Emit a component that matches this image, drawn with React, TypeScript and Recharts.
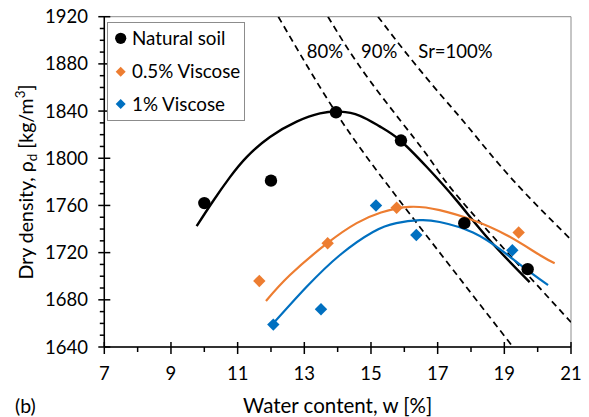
import React from 'react';
import { ComposedChart, Line, Scatter, XAxis, YAxis, ReferenceArea } from 'recharts';

// ---- axis ticks ----
const xTicks = [7, 8, 9, 10, 11, 12, 13, 14, 15, 16, 17, 18, 19, 20, 21];
const xTickLabels = [7, 9, 11, 13, 15, 17, 19, 21];
const yTicks = [1640, 1650, 1660, 1670, 1680, 1690, 1700, 1710, 1720, 1730, 1740, 1750, 1760, 1770, 1780, 1790, 1800, 1810, 1820, 1830, 1840, 1850, 1860, 1870, 1880, 1890, 1900, 1910, 1920];
const yTickLabels = [1640, 1680, 1720, 1760, 1800, 1840, 1880, 1920];

// ---- measured points ----
const naturalPts = [
  { w: 10.0, rho: 1762 },
  { w: 12.0, rho: 1781 },
  { w: 13.95, rho: 1839 },
  { w: 15.9, rho: 1815 },
  { w: 17.8, rho: 1745 },
  { w: 19.7, rho: 1706 },
];
const visc05Pts = [
  { w: 11.65, rho: 1696 },
  { w: 13.7, rho: 1728 },
  { w: 15.77, rho: 1758 },
  { w: 19.43, rho: 1737 },
];
const visc1Pts = [
  { w: 12.07, rho: 1659 },
  { w: 13.5, rho: 1672 },
  { w: 15.15, rho: 1760 },
  { w: 16.36, rho: 1735 },
  { w: 19.24, rho: 1722 },
];

// ---- fitted curves ----
const naturalFit = [
  { w: 9.77, rho: 1742.5 },
  { w: 10.27, rho: 1764 },
  { w: 10.77, rho: 1784 },
  { w: 11.27, rho: 1801 },
  { w: 11.97, rho: 1818 },
  { w: 12.77, rho: 1831 },
  { w: 13.47, rho: 1838 },
  { w: 14.07, rho: 1839.5 },
  { w: 14.67, rho: 1836 },
  { w: 15.26, rho: 1827 },
  { w: 15.86, rho: 1815.5 },
  { w: 16.66, rho: 1793 },
  { w: 17.56, rho: 1764.5 },
  { w: 18.56, rho: 1730.5 },
  { w: 19.76, rho: 1695 },
];
const visc05Fit = [
  { w: 11.85, rho: 1679 },
  { w: 12.57, rho: 1701 },
  { w: 13.69, rho: 1728 },
  { w: 14.57, rho: 1745 },
  { w: 15.3, rho: 1754 },
  { w: 16.16, rho: 1758.8 },
  { w: 17.06, rho: 1756 },
  { w: 18.06, rho: 1747.5 },
  { w: 19.06, rho: 1735 },
  { w: 20.06, rho: 1718 },
  { w: 20.51, rho: 1711 },
];
const visc1Fit = [
  { w: 12.07, rho: 1660 },
  { w: 13.07, rho: 1691 },
  { w: 14.07, rho: 1718 },
  { w: 15.06, rho: 1737.5 },
  { w: 15.76, rho: 1745 },
  { w: 16.46, rho: 1747.5 },
  { w: 17.06, rho: 1746 },
  { w: 18.06, rho: 1737 },
  { w: 18.96, rho: 1721 },
  { w: 19.56, rho: 1708 },
  { w: 20.31, rho: 1692.5 },
];

// ---- saturation lines ----
const sat80 = [
  { w: 12.22, rho: 1920 },
  { w: 13.92, rho: 1840 },
  { w: 15.86, rho: 1764 },
  { w: 19.26, rho: 1640 },
];
const sat90 = [
  { w: 13.71, rho: 1920 },
  { w: 14.96, rho: 1866 },
  { w: 16.66, rho: 1803.5 },
  { w: 17.71, rho: 1764 },
  { w: 21.0, rho: 1661 },
];
const sat100 = [
  { w: 15.21, rho: 1920 },
  { w: 16.16, rho: 1885.5 },
  { w: 17.16, rho: 1851.5 },
  { w: 17.96, rho: 1825 },
  { w: 19.26, rho: 1781.5 },
  { w: 21.0, rho: 1731 },
];
const satLabels = ['80%', '90%', 'Sr=100%'];

const BLACK = '#000000';
const ORANGE = '#ED7D31';
const BLUE = '#0070C0';

const legendItems = [
  { name: 'Natural soil', color: BLACK, shape: 'circle' },
  { name: '0.5% Viscose', color: ORANGE, shape: 'diamond' },
  { name: '1% Viscose', color: BLUE, shape: 'diamond' },
];

const FONT = 'Lato, "Open Sans", sans-serif';
const W = 589;
const H = 417;

const XTick = (props: any) => {
  const { x, y, payload } = props;
  const v = payload.value;
  const major = xTickLabels.includes(v);
  return (
    <g>
      <line x1={x} x2={x} y1={major ? y - 5 : y} y2={major ? y + 7 : y + 5} stroke="#000" strokeWidth={1.5} />
      {major && (
        <text x={x} y={y + 33} textAnchor="middle" fontFamily={FONT} fontSize={18.5} fill="#000">
          {v}
        </text>
      )}
    </g>
  );
};

const YTick = (props: any) => {
  const { x, y, payload } = props;
  const v = payload.value;
  const major = yTickLabels.includes(v);
  return (
    <g>
      <line x1={major ? x - 6 : x - 4.5} x2={major ? x + 6 : x} y1={y} y2={y} stroke="#000" strokeWidth={1.5} />
      {major && (
        <text x={x - 16.3} y={y + 6.6} textAnchor="end" fontFamily={FONT} fontSize={18.5} fill="#000">
          {v}
        </text>
      )}
    </g>
  );
};

const circleShape = (color: string, r: number) => (props: any) => (
  <circle cx={props.cx} cy={props.cy} r={r} fill={color} />
);
const diamondShape = (color: string, s: number) => (props: any) => {
  const { cx, cy } = props;
  return <path d={`M${cx},${cy - s}L${cx + s},${cy}L${cx},${cy + s}L${cx - s},${cy}Z`} fill={color} />;
};

export default function App() {
  return (
    <div style={{ position: 'relative', width: W, height: H }}>
      <style>{'html,body{margin:0;padding:0;overflow:hidden;}'}</style>
      <ComposedChart width={W} height={H} margin={{ top: 16.7, right: 18, left: 0, bottom: 0 }}>
        <ReferenceArea x1={7} x2={21} y1={1640} y2={1920} fill="none" stroke="#8c8c8c" strokeWidth={1} />
        <XAxis
          type="number"
          dataKey="w"
          domain={[7, 21]}
          ticks={xTicks}
          interval={0}
          allowDataOverflow
          height={70}
          tickSize={0}
          tickMargin={0}
          tickLine={false}
          axisLine={{ stroke: '#000', strokeWidth: 1.5 }}
          tick={<XTick />}
        />
        <YAxis
          type="number"
          dataKey="rho"
          domain={[1640, 1920]}
          ticks={yTicks}
          interval={0}
          allowDataOverflow
          width={104.3}
          tickSize={0}
          tickMargin={0}
          tickLine={false}
          axisLine={{ stroke: '#000', strokeWidth: 1.5 }}
          tick={<YTick />}
        />
        {[sat80, sat90, sat100].map((d, i) => (
          <Line
            key={satLabels[i]}
            data={d}
            dataKey="rho"
            type="natural"
            stroke="#000"
            strokeWidth={1.75}
            strokeDasharray="6.5 4.5"
            dot={false}
            activeDot={false}
            isAnimationActive={false}
          />
        ))}
        <Line data={naturalFit} dataKey="rho" type="natural" stroke={BLACK} strokeWidth={2.4} dot={false} activeDot={false} isAnimationActive={false} />
        <Line data={visc05Fit} dataKey="rho" type="natural" stroke={ORANGE} strokeWidth={2.2} dot={false} activeDot={false} isAnimationActive={false} />
        <Line data={visc1Fit} dataKey="rho" type="natural" stroke={BLUE} strokeWidth={2.2} dot={false} activeDot={false} isAnimationActive={false} />
        <Scatter data={naturalPts} dataKey="rho" fill={BLACK} shape={circleShape(BLACK, 6.2)} isAnimationActive={false} />
        <Scatter data={visc05Pts} dataKey="rho" fill={ORANGE} shape={diamondShape(ORANGE, 6.2)} isAnimationActive={false} />
        <Scatter data={visc1Pts} dataKey="rho" fill={BLUE} shape={diamondShape(BLUE, 6.2)} isAnimationActive={false} />
      </ComposedChart>
      <svg width={W} height={H} style={{ position: 'absolute', left: 0, top: 0, pointerEvents: 'none' }}>
        <g fontFamily={FONT} fill="#000">
          {/* legend */}
          <rect x={107.5} y={22.5} width={137} height={98} fill="#fff" stroke="#8c8c8c" strokeWidth={1} />
          {legendItems.map((it, i) => {
            const cy = [38.3, 71.7, 104][i];
            return (
              <g key={it.name}>
                {it.shape === 'circle' ? (
                  <circle cx={120.7} cy={cy} r={5.6} fill={it.color} />
                ) : (
                  <path d={`M120.7,${cy - 5}L125.7,${cy}L120.7,${cy + 5}L115.7,${cy}Z`} fill={it.color} />
                )}
                <text x={132} y={cy + 6.6} fontSize={18.8}>
                  {it.name}
                </text>
              </g>
            );
          })}
          {/* saturation labels */}
          <text x={306.7} y={58} fontSize={18.5}>{satLabels[0]}</text>
          <text x={361} y={58} fontSize={18.5}>{satLabels[1]}</text>
          <text x={418.3} y={58} fontSize={18.5}>{satLabels[2]}</text>
          {/* axis titles */}
          <text x={337.7} y={412.5} textAnchor="middle" fontSize={20.5}>Water content, w [%]</text>
          <text x={15} y={412.5} fontSize={19.5}>(b)</text>
          <text x={32.5} y={182} textAnchor="middle" fontSize={19.5} transform="rotate(-90 32.5 182)">
            Dry density, ρ<tspan dy={4} fontSize={13.5}>d</tspan>
            <tspan dy={-4}> [kg/m</tspan>
            <tspan dy={-8} fontSize={13.5}>3</tspan>
            <tspan dy={8}>]</tspan>
          </text>
        </g>
      </svg>
    </div>
  );
}
